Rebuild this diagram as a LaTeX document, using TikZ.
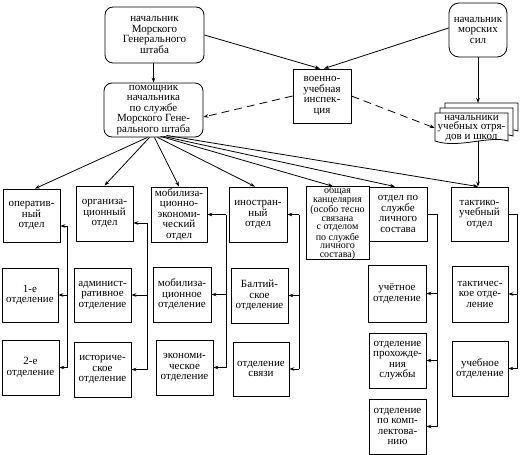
\documentclass[tikz,border=0pt]{standalone}
\usepackage{fontspec}
\setmainfont{Liberation Serif}
\usetikzlibrary{arrows.meta}
\begin{document}
\begin{tikzpicture}[x=1pt,y=-1pt,
  box/.style={draw, line width=0.8pt, align=center, inner sep=0pt, font=\fontsize{11}{10.5}\selectfont},
  rbox/.style={box, rounded corners=8pt},
  ln/.style={line width=0.8pt},
  arr/.style={ln, -{Stealth[length=5pt,width=3.6pt]}},
  darr/.style={arr, dash pattern=on 8pt off 5pt},
  doc/.style={ln, fill=white}]
\useasboundingbox (0,0) rectangle (523,455);

% top
\node[rbox, minimum width=99pt, minimum height=56pt] (nmgsh) at (154.5,35) {начальник\\Морского\\Генерального\\штаба};
\node[rbox, minimum width=99pt, minimum height=54pt] (pom) at (153.5,110) {помощник\\начальника\\по службе\\Морского Гене-\\рального штаба};
\node[box, rounded corners=10pt, minimum width=58pt, minimum height=54pt] (nms) at (478,30) {начальник\\морских\\сил};
\node[box, minimum width=58pt, minimum height=54pt] (vui) at (322,96) {военно-\\учебная\\инспек-\\ция};

% multi-document
\filldraw[doc] (445,103) -- (518,103) -- (518,131) .. controls (500,125) and (468,139) .. (445,131) -- cycle;
\filldraw[doc] (440,108) -- (513,108) -- (513,136) .. controls (495,130) and (463,144) .. (440,136) -- cycle;
\filldraw[doc] (435,113) -- (508,113) -- (508,141) .. controls (490,135) and (458,149) .. (435,141) -- cycle;
\node[align=center, inner sep=0pt, minimum width=73pt, minimum height=30pt, font=\fontsize{11}{9.5}\selectfont] (nuo) at (471.5,128) {начальники\\учебных отря-\\дов и школ};
\coordinate (nuotop) at (478,103);
\coordinate (nuobot) at (478,141);

% departments
\node[box, minimum width=57pt, minimum height=53pt] (oper) at (31.5,215.5) {оператив-\\ный\\отдел};
\node[box, minimum width=57pt, minimum height=55pt] (org) at (104.5,213.5) {организа-\\ционный\\отдел};
\node[box, minimum width=56pt, minimum height=55pt] (mobek) at (179,214.5) {мобилиза-\\ционно-\\экономи-\\ческий\\отдел};
\node[box, minimum width=58pt, minimum height=55pt] (inostr) at (258,214.5) {иностран-\\ный\\отдел};
\node[box, minimum width=63pt, minimum height=72pt, font=\fontsize{10}{8.6}\selectfont] (kanc) at (337.5,223) {общая\\канцелярия\\(особо тесно\\связана\\с отделом\\по службе\\личного\\состава)};
\node[box, minimum width=58pt, minimum height=54pt] (lsost) at (398,214) {отдел по\\службе\\личного\\состава};
\node[box, minimum width=57pt, minimum height=54pt] (takt) at (479.5,214) {тактико-\\учебный\\отдел};

% sub-departments
\node[box, minimum width=56pt, minimum height=54pt] (o1) at (30,295) {1-е\\отделение};
\node[box, minimum width=57pt, minimum height=55pt] (o2) at (30.5,367.5) {2-е\\отделение};
\node[box, minimum width=57pt, minimum height=54pt] (adm) at (102.5,295) {админист-\\ративное\\отделение};
\node[box, minimum width=57pt, minimum height=55pt] (ist) at (102.5,369.5) {историче-\\ское\\отделение};
\node[box, minimum width=58pt, minimum height=55pt] (mob) at (182,294.5) {мобилиза-\\ционное\\отделение};
\node[box, minimum width=57pt, minimum height=55pt] (ekon) at (184.5,367.5) {экономи-\\ческое\\отделение};
\node[box, minimum width=57pt, minimum height=55pt] (balt) at (259.5,295.5) {Балтий-\\ское\\отделение};
\node[box, minimum width=56pt, minimum height=54pt] (svyaz) at (261,369) {отделение\\связи};
\node[box, minimum width=58pt, minimum height=57pt] (uchet) at (397,293.5) {учётное\\отделение};
\node[box, minimum width=57pt, minimum height=55pt] (prokh) at (397.5,360.5) {отделение\\прохожде-\\ния\\службы};
\node[box, minimum width=57pt, minimum height=55pt] (kompl) at (397.5,426.5) {отделение\\по комп-\\лектова-\\нию};
\node[box, minimum width=56pt, minimum height=56pt] (taktich) at (480,294) {тактичес-\\кое отде-\\ление};
\node[box, minimum width=56pt, minimum height=55pt] (ucheb) at (480,368.5) {учебное\\отделение};

% top connectors
\draw[arr] (nmgsh.south -| pom.north) -- (pom.north);
\draw[arr] (nmgsh.east) -- ([xshift=-2pt]vui.north);
\draw[arr] ([yshift=2pt]nms.west) -- ([xshift=2pt]vui.north);
\draw[arr] (nms.south) -- (nuotop);
\draw[darr] (vui.west) -- ([yshift=-7pt]pom.east);
\draw[darr] (vui.east) -- (nuo.west);
\draw[arr] (nuobot) -- (nuobot |- takt.north);

% fan
\draw[arr] ([xshift=-6pt]pom.south) -- ([xshift=3.5pt]oper.north);
\draw[arr] ([xshift=-4pt]pom.south) -- (org.north);
\draw[arr] ([xshift=1pt]pom.south) -- (mobek.north);
\draw[arr] ([xshift=4pt]pom.south) -- ([xshift=-3pt]inostr.north);
\draw[arr] ([xshift=7pt,yshift=1pt]pom.south) -- ([xshift=-4.5pt]kanc.north);
\draw[arr] ([xshift=10pt,yshift=1pt]pom.south) -- ([xshift=-3pt]lsost.north);
\draw[arr] ([xshift=13pt,yshift=2pt]pom.south) -- ([xshift=-1.5pt]takt.north);

% brackets
\coordinate (b1) at (67,226);
\draw[ln] (b1) -- (b1 |- o2.east);
\draw[arr] (b1) -- (b1 -| oper.east);
\draw[arr] (o1.east -| b1) -- (o1.east);
\draw[arr] (o2.east -| b1) -- (o2.east);

\coordinate (b2) at (147,223);
\draw[ln] (b2) -- (b2 |- ist.east);
\draw[arr] (b2) -- (b2 -| org.east);
\draw[arr] (adm.east -| b2) -- (adm.east);
\draw[arr] (ist.east -| b2) -- (ist.east);

\coordinate (b3) at (226,214.5);
\draw[ln] (b3) -- (b3 |- ekon.east);
\draw[arr] (b3) -- (b3 -| mobek.east);
\draw[arr] (mob.east -| b3) -- (mob.east);
\draw[arr] (ekon.east -| b3) -- (ekon.east);

\coordinate (b4) at (299,214.5);
\draw[ln] (b4) -- (b4 |- svyaz.east);
\draw[arr] (b4) -- (b4 -| inostr.east);
\draw[arr] (balt.east -| b4) -- (balt.east);
\draw[arr] (svyaz.east -| b4) -- (svyaz.east);

\coordinate (b5) at (437,0);
\draw[ln] (lsost.east) -- (lsost.east -| b5) -- (kompl.east -| b5);
\draw[arr] (uchet.east -| b5) -- (uchet.east);
\draw[arr] (prokh.east -| b5) -- (prokh.east);
\draw[arr] (kompl.east -| b5) -- (kompl.east);

\coordinate (b6) at (517,0);
\draw[ln] (takt.east) -- (takt.east -| b6) -- (ucheb.east -| b6);
\draw[arr] (taktich.east -| b6) -- (taktich.east);
\draw[arr] (ucheb.east -| b6) -- (ucheb.east);
\end{tikzpicture}
\end{document}
